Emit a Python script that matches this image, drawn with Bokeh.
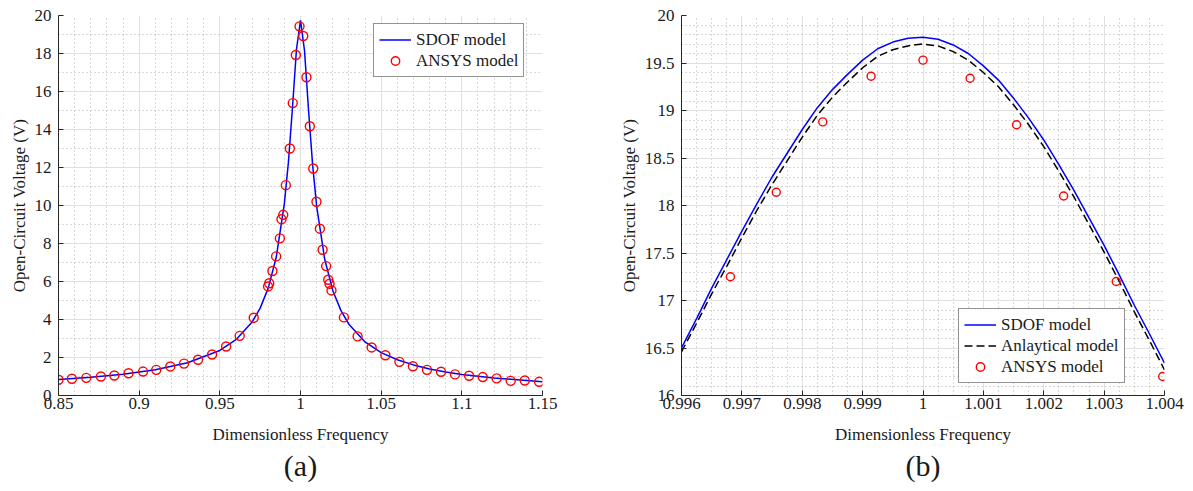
import numpy as np
from bokeh.plotting import figure
from bokeh.layouts import row
from bokeh.models import (FixedTicker, Legend, LegendItem, Title)
from bokeh.embed import file_html
from bokeh.resources import INLINE

# ---------------- data: panel (a) ----------------
sdof_a_x = [0.85, 0.87, 0.89, 0.91, 0.93, 0.95, 0.96, 0.97, 0.975, 0.98, 0.985,
            0.99, 0.9925, 0.995, 0.9975, 1.0, 1.0025, 1.005, 1.0075, 1.01, 1.015,
            1.02, 1.025, 1.03, 1.04, 1.05, 1.06, 1.07, 1.08, 1.09, 1.10, 1.12, 1.15]
sdof_a_y = [0.84, 0.96, 1.12, 1.36, 1.72, 2.37, 2.94, 3.87, 4.60, 5.65, 7.29,
            10.10, 12.27, 15.12, 18.22, 19.75, 18.14, 15.00, 12.15, 9.97, 7.17,
            5.53, 4.48, 3.75, 2.82, 2.26, 1.88, 1.61, 1.40, 1.24, 1.11, 0.92, 0.72]

ansys_a_x = [0.85, 0.8583, 0.8672, 0.8763, 0.8846, 0.8934, 0.9024, 0.9106, 0.9193,
             0.9278, 0.9365, 0.9452, 0.9539, 0.9623, 0.9710, 0.9799, 0.9806, 0.9826,
             0.9849, 0.9872, 0.9882, 0.9893, 0.9909, 0.9934, 0.9952, 0.9971, 0.9994,
             1.0017, 1.0037, 1.0058, 1.0079, 1.0099, 1.0120, 1.0137, 1.0159, 1.0172,
             1.0180, 1.0192, 1.0269, 1.0354, 1.0441, 1.0526, 1.0613, 1.0697, 1.0784,
             1.0871, 1.0958, 1.1045, 1.1130, 1.1216, 1.1303, 1.1390, 1.1479]
ansys_a_y = [0.83, 0.88, 0.93, 1.00, 1.05, 1.17, 1.26, 1.35, 1.53,
             1.68, 1.88, 2.16, 2.58, 3.14, 4.09, 5.74, 5.91, 6.55,
             7.32, 8.27, 9.28, 9.51, 11.07, 13.00, 15.39, 17.92, 19.43,
             18.92, 16.75, 14.17, 11.95, 10.20, 8.78, 7.67, 6.81, 6.09,
             5.88, 5.53, 4.11, 3.11, 2.53, 2.12, 1.77, 1.54, 1.35,
             1.25, 1.11, 1.04, 0.97, 0.90, 0.77, 0.79, 0.72]

a_xticks = [0.85, 0.9, 0.95, 1.0, 1.05, 1.1, 1.15]
a_xtick_labels = ["0.85", "0.9", "0.95", "1", "1.05", "1.1", "1.15"]
a_yticks = [0, 2, 4, 6, 8, 10, 12, 14, 16, 18, 20]
a_ytick_labels = ["0", "2", "4", "6", "8", "10", "12", "14", "16", "18", "20"]

# ---------------- data: panel (b) ----------------
b_x = [0.996, 0.99625, 0.9965, 0.99675, 0.997, 0.99725, 0.9975, 0.99775,
       0.998, 0.99825, 0.9985, 0.99875, 0.999, 0.99925, 0.9995, 0.99975,
       1.0, 1.00025, 1.0005, 1.00075, 1.001, 1.00125, 1.0015, 1.00175,
       1.002, 1.00225, 1.0025, 1.00275, 1.003, 1.00325, 1.0035, 1.00375, 1.004]
sdof_b_y = [16.50, 16.81, 17.13, 17.43, 17.73, 18.02, 18.30, 18.55,
            18.80, 19.03, 19.22, 19.38, 19.53, 19.65, 19.72, 19.76,
            19.77, 19.75, 19.69, 19.60, 19.47, 19.32, 19.13, 18.92,
            18.69, 18.43, 18.16, 17.87, 17.58, 17.27, 16.95, 16.65, 16.34]
anal_b_y = [16.46, 16.76, 17.07, 17.36, 17.66, 17.95, 18.22, 18.47,
            18.72, 18.95, 19.14, 19.30, 19.45, 19.57, 19.64, 19.68,
            19.70, 19.68, 19.62, 19.53, 19.40, 19.25, 19.06, 18.85,
            18.62, 18.36, 18.09, 17.80, 17.51, 17.20, 16.88, 16.58, 16.27]

ansys_b_x = [0.99681, 0.99757, 0.99834, 0.99914, 1.0, 1.00078, 1.00155,
             1.00233, 1.00320, 1.00397]
ansys_b_y = [17.25, 18.14, 18.88, 19.36, 19.53, 19.34, 18.85, 18.10, 17.20, 16.20]

b_xticks = [0.996, 0.997, 0.998, 0.999, 1.0, 1.001, 1.002, 1.003, 1.004]
b_xtick_labels = ["0.996", "0.997", "0.998", "0.999", "1", "1.001", "1.002", "1.003", "1.004"]
b_yticks = [16, 16.5, 17, 17.5, 18, 18.5, 19, 19.5, 20]
b_ytick_labels = ["16", "16.5", "17", "17.5", "18", "18.5", "19", "19.5", "20"]

FONT = "Liberation Serif"
TXT = "#1a1a1a"


def minor(ticks, n):
    out = []
    for a, b in zip(ticks[:-1], ticks[1:]):
        for k in range(1, n):
            out.append(a + (b - a) * k / n)
    return out


def make_fig(xr, yr, xt, xl, yt, yl, nxm, nym, w, bl, br, panel):
    p = figure(width=w, height=491, x_range=xr, y_range=yr,
               output_backend="svg", toolbar_location=None,
               min_border_left=bl, min_border_right=br, min_border_top=15,
               min_border_bottom=96)
    p.outline_line_color = None
    p.xaxis.ticker = FixedTicker(ticks=xt, minor_ticks=minor(xt, nxm))
    p.yaxis.ticker = FixedTicker(ticks=yt, minor_ticks=minor(yt, nym))
    p.xaxis.major_label_overrides = {t: l for t, l in zip(xt, xl)}
    p.yaxis.major_label_overrides = {t: l for t, l in zip(yt, yl)}
    for ax in (p.xaxis, p.yaxis):
        ax.axis_line_color = "#262626"
        ax.major_tick_line_color = "#262626"
        ax.major_tick_in = 5
        ax.major_tick_out = 0
        ax.minor_tick_in = 0
        ax.minor_tick_out = 0
        ax.major_label_text_font = FONT
        ax.major_label_text_font_size = "17px"
        ax.major_label_text_color = TXT
        ax.axis_label_text_font = FONT
        ax.axis_label_text_font_size = "17px"
        ax.axis_label_text_font_style = "normal"
        ax.axis_label_text_color = TXT
    p.xaxis.major_label_standoff = 2
    p.xaxis.axis_label_standoff = 13
    p.yaxis.major_label_standoff = 7
    p.yaxis.axis_label_standoff = 3
    p.xaxis.axis_label = "Dimensionless Frequency"
    p.yaxis.axis_label = "Open-Circuit Voltage (V)"
    for g in (p.xgrid, p.ygrid):
        g.grid_line_color = "#e0e0e0"
        g.grid_line_width = 1
        g.minor_grid_line_color = "#b0b0b0"
        g.minor_grid_line_dash = "1 3"
        g.minor_grid_line_width = 1
    p.add_layout(Title(text=panel, align="center", text_font=FONT,
                       text_font_size="30px", text_font_style="normal",
                       text_color=TXT, standoff=0), "below")
    return p


# ---- panel (a) ----
p1 = make_fig((0.85, 1.15), (0, 20), a_xticks, a_xtick_labels, a_yticks,
              a_ytick_labels, 5, 2, 611, 58, 69, "(a)")
r1 = p1.line(sdof_a_x, sdof_a_y, line_color="#0000ff", line_width=1.5)
r2 = p1.scatter(ansys_a_x, ansys_a_y, marker="circle", size=9, fill_color=None,
                line_color="#ff0000", line_width=1.4)
leg1 = Legend(items=[LegendItem(label="SDOF model", renderers=[r1]),
                     LegendItem(label="ANSYS model", renderers=[r2])],
              location=(315, 318))
p1.add_layout(leg1)

# ---- panel (b) ----
p2 = make_fig((0.996, 1.004), (16, 20), b_xticks, b_xtick_labels, b_yticks,
              b_ytick_labels, 4, 5, 582, 70, 29, "(b)")
s1 = p2.line(b_x, sdof_b_y, line_color="#0000ff", line_width=1.5)
s2 = p2.line(b_x, anal_b_y, line_color="#000000", line_width=1.5, line_dash="8 4")
s3 = p2.scatter(ansys_b_x, ansys_b_y, marker="circle", size=8, fill_color=None,
                line_color="#ff0000", line_width=1.4)
leg2 = Legend(items=[LegendItem(label="SDOF model", renderers=[s1]),
                     LegendItem(label="Anlaytical model", renderers=[s2]),
                     LegendItem(label="ANSYS model", renderers=[s3])],
              location=(277, 12))
p2.add_layout(leg2)

for lg in (leg1, leg2):
    lg.border_line_color = "#262626"
    lg.border_line_width = 1
    lg.background_fill_color = "white"
    lg.background_fill_alpha = 1
    lg.label_text_font = FONT
    lg.label_text_font_size = "17px"
    lg.label_text_color = TXT
    lg.glyph_width = 32
    lg.glyph_height = 21
    lg.label_height = 21
    lg.spacing = 0
    lg.padding = 5
    lg.margin = 0
    lg.label_standoff = 5

layout = row(p1, p2)
open("out.html", "w").write(file_html(layout, INLINE))
